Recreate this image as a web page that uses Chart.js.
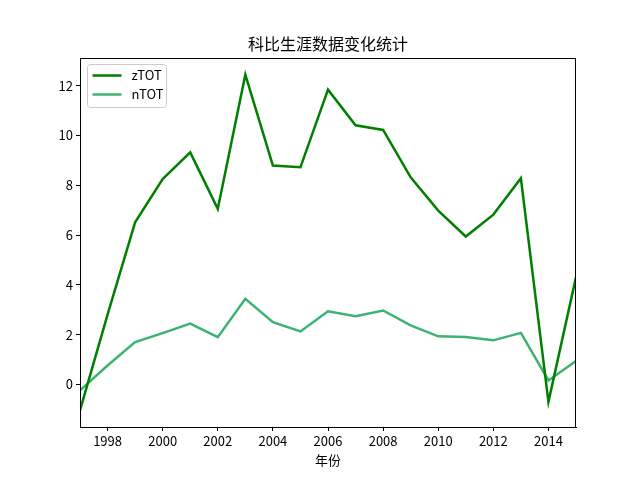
<!DOCTYPE html>
<html>
<head>
<meta charset="utf-8">
<script src="https://cdn.jsdelivr.net/npm/chart.js@4"></script>
<style>
  html, body { margin: 0; padding: 0; background: #fff; }
  #wrap { width: 640px; height: 480px; }
</style>
</head>
<body>
<div id="wrap"><canvas id="chart" width="640" height="480"></canvas></div>
<script>
// --- datos ---
const years = [1997, 1998, 1999, 2000, 2001, 2002, 2003, 2004, 2005, 2006,
               2007, 2008, 2009, 2010, 2011, 2012, 2013, 2014, 2015];
const zTOT = [-1.04, 2.8, 6.51, 8.25, 9.32, 7.05, 12.44, 8.79, 8.72, 11.84,
              10.41, 10.22, 8.32, 6.98, 5.94, 6.82, 8.28, -0.7, 4.31];
const nTOT = [-0.24, 0.76, 1.70, 2.06, 2.44, 1.90, 3.44, 2.50, 2.13, 2.94,
              2.74, 2.97, 2.37, 1.93, 1.90, 1.77, 2.07, 0.16, 0.94];
const xTicks = [1998, 2000, 2002, 2004, 2006, 2008, 2010, 2012, 2014];
const yTicks = [0, 2, 4, 6, 8, 10, 12];

const FONT = "'Noto Sans CJK SC', 'DejaVu Sans', sans-serif";

// --- marco + título + leyenda ---
const framePlugin = {
  id: "frame",
  afterDraw(chart) {
    const { ctx, chartArea: a } = chart;
    ctx.save();
    ctx.strokeStyle = "#000";
    ctx.lineWidth = 1;
    ctx.strokeRect(a.left + 0.5, a.top + 0.5, a.right - a.left - 1, a.bottom - a.top);

    // título
    ctx.fillStyle = "#000";
    ctx.font = "16px " + FONT;
    ctx.textAlign = "center";
    ctx.textBaseline = "middle";
    ctx.fillText("科比生涯数据变化统计", (a.left + a.right) / 2, 44);

    // leyenda
    const bx = a.left + 7.5, by = a.top + 6.5;
    ctx.fillStyle = "rgba(255,255,255,0.8)";
    ctx.strokeStyle = "#ccc";
    ctx.beginPath();
    ctx.roundRect(bx, by, 79, 43, 3);
    ctx.fill();
    ctx.stroke();
    ctx.font = "13px " + FONT;
    ctx.textAlign = "left";
    chart.data.datasets.forEach((ds, i) => {
      const y = by + 11 + i * 19;
      ctx.strokeStyle = ds.borderColor;
      ctx.lineWidth = 2.5;
      ctx.beginPath();
      ctx.moveTo(bx + 5, y);
      ctx.lineTo(bx + 34, y);
      ctx.stroke();
      ctx.fillStyle = "#000";
      ctx.fillText(ds.label, bx + 44, y);
    });
    ctx.restore();
  },
};

new Chart(document.getElementById("chart"), {
  type: "line",
  data: {
    datasets: [
      {
        label: "zTOT",
        data: years.map((y, i) => ({ x: y, y: zTOT[i] })),
        borderColor: "#008000",
        borderWidth: 2.5,
        pointRadius: 0,
        tension: 0,
      },
      {
        label: "nTOT",
        data: years.map((y, i) => ({ x: y, y: nTOT[i] })),
        borderColor: "#3cb371",
        borderWidth: 2.5,
        pointRadius: 0,
        tension: 0,
      },
    ],
  },
  options: {
    responsive: false,
    animation: false,
    layout: { padding: { top: 58, right: 64, left: 0, bottom: 0 } },
    plugins: {
      legend: { display: false },
      title: { display: false },
      tooltip: { enabled: false },
    },
    scales: {
      x: {
        type: "linear",
        min: 1997,
        max: 2015,
        afterBuildTicks: (s) => { s.ticks = xTicks.map((v) => ({ value: v })); },
        afterFit: (s) => { s.height = 53; },
        grid: { drawOnChartArea: false, tickLength: 4, color: "#000" },
        border: { color: "#000" },
        ticks: {
          color: "#000",
          font: { size: 13, family: FONT },
          maxRotation: 0,
          padding: 2,
          callback: (v) => String(v),
        },
        title: {
          display: true,
          text: "年份",
          color: "#000",
          font: { size: 13, family: FONT },
          padding: { top: 0, bottom: 12 },
        },
      },
      y: {
        min: -1.71,
        max: 13.11,
        afterBuildTicks: (s) => { s.ticks = yTicks.map((v) => ({ value: v })); },
        afterFit: (s) => { s.width = 80; },
        grid: { drawOnChartArea: false, tickLength: 4, color: "#000" },
        border: { color: "#000" },
        ticks: {
          color: "#000",
          font: { size: 13, family: FONT },
          padding: 3,
        },
      },
    },
  },
  plugins: [framePlugin],
});
</script>
</body>
</html>
